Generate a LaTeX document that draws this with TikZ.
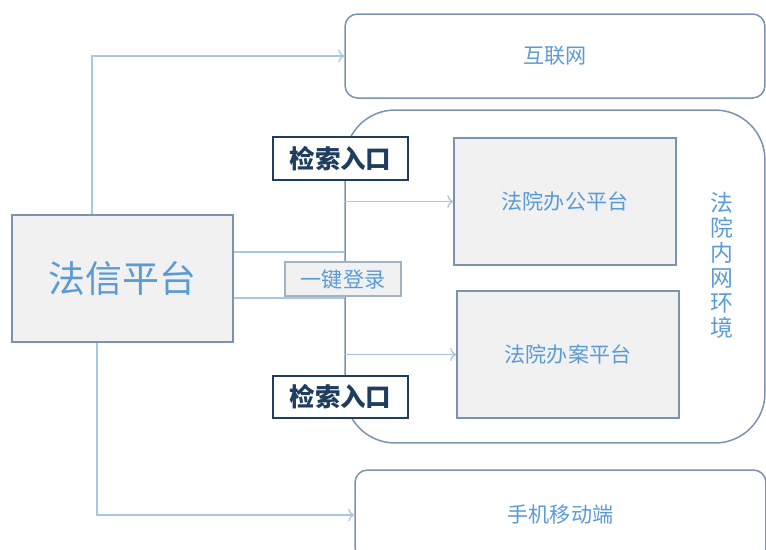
\documentclass[tikz,border=0pt]{standalone}
\usepackage{fontspec}
\usetikzlibrary{arrows.meta}
\newfontfamily\cjk{Noto Sans CJK SC}
\definecolor{txtblue}{HTML}{5B9BD5}
\definecolor{linkblue}{HTML}{A9C6E4}
\definecolor{boxgray}{HTML}{7A93AE}
\definecolor{boxfill}{HTML}{F1F1F1}
\definecolor{navy}{HTML}{1F3E5E}

\begin{document}
\begin{tikzpicture}[x=0.02cm, y=-0.02cm,
    plat/.style={draw=boxgray, fill=boxfill, line width=.3mm, inner sep=0pt, text=txtblue,
        font=\cjk\fontsize{12}{14}\selectfont},
    zone/.style={draw=boxgray, line width=.3mm, rounded corners=.25cm, inner sep=0pt, text=txtblue,
        font=\cjk\fontsize{12}{14}\selectfont},
    entry/.style={draw=navy, fill=white, line width=.4mm, inner sep=0pt, text=navy,
        minimum width=2.7cm, minimum height=.85cm, font=\cjk\bfseries\fontsize{14.5}{16}\selectfont},
    link/.style={linkblue, line width=.25mm, -{To[length=1.2mm, width=2.6mm]}}]
        \useasboundingbox (0, 0) rectangle (766, 549);
        % outer zones
        \node[zone, minimum width=8.4cm, minimum height=1.68cm] (net) at (555, 56) {互联网};
        \node[zone, rounded corners=1cm, minimum width=8.4cm, minimum height=6.66cm] (court) at (555, 276.5) {};
        \node[zone, minimum width=8.22cm, minimum height=1.8cm] (mobile) at (560.5, 515) {手机移动端};
        \node[text=txtblue, align=center, font=\cjk\fontsize{13}{14.2}\selectfont] (courtlabel) at (722, 265)
            {法\\院\\内\\网\\环\\境};
        % platforms
        \node[plat, minimum width=4.42cm, minimum height=2.54cm, font=\cjk\fontsize{21}{24}\selectfont] (faxin) at (122.5, 278.5) {法信平台};
        \node[plat, minimum width=4.44cm, minimum height=2.54cm] (office) at (565, 201.5) {法院办公平台};
        \node[plat, minimum width=4.44cm, minimum height=2.54cm] (case) at (568, 354.5) {法院办案平台};
        % links
        \coordinate (up) at (92, 56);
        \coordinate (down) at (97, 515);
        \draw[link] (faxin.north -| up) -- (up) -- (net.west);
        \draw[link] (faxin.south -| down) -- (down) -- (mobile.west);
        \draw[linkblue, line width = .25mm] ([yshift=.53cm]faxin.east) -- ([yshift=.53cm]faxin.east -| court.west);
        \draw[linkblue, line width = .25mm] ([yshift=-.39cm]faxin.east) -- ([yshift=-.39cm]faxin.east -| court.west);
        \draw[link] (court.west |- office.west) -- (office.west);
        \draw[link] (court.west |- case.west) -- (case.west);
        % entries on the border
        \node[plat, draw=boxgray!70, minimum width=2.32cm, minimum height=.68cm, line width=.25mm] (login) at (343, 279) {一键登录};
        \node[entry] (search1) at (340.5, 158.5) {检索入口};
        \node[entry] (search2) at (340.5, 397) {检索入口};
\end{tikzpicture}
\end{document}
